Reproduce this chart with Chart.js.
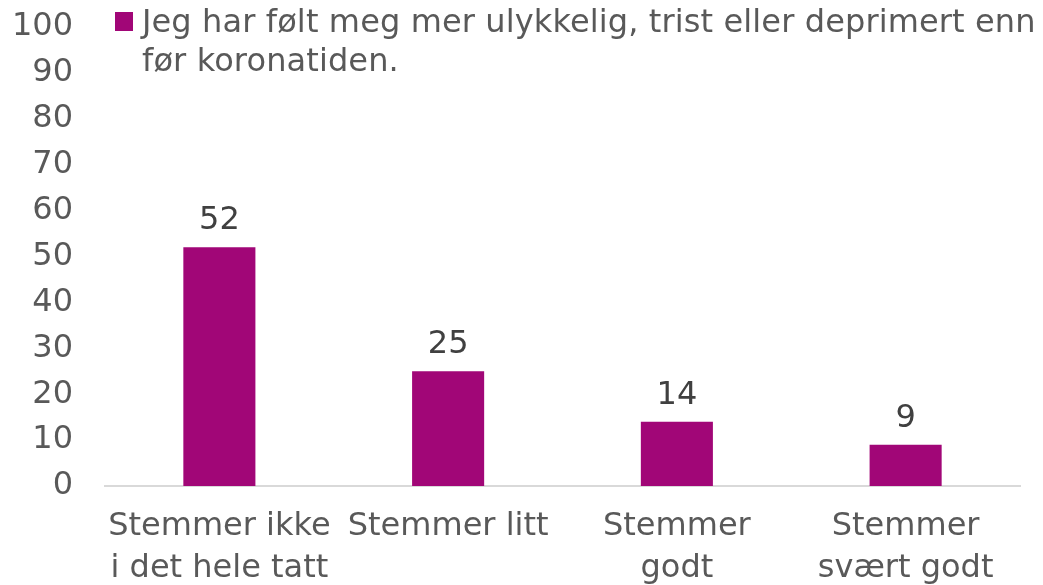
<!DOCTYPE html>
<html>
<head>
<meta charset="utf-8">
<script src="https://cdn.jsdelivr.net/npm/chart.js@4.4.1/dist/chart.umd.min.js"></script>
<style>
  html, body { margin: 0; padding: 0; background: #fff; }
  #wrap { position: relative; width: 1043px; height: 585px; overflow: hidden; }
  #legend { position: absolute; left: 115px; top: 2px; width: 960px; font-family: "DejaVu Sans", Verdana, sans-serif; font-size: 32px; color: #595959; line-height: 39px; letter-spacing: 0.12px; }
  #legend .sw { position: absolute; left: 0; top: 10px; width: 18px; height: 19px; }
  #legend .tx { margin-left: 27px; width: 905px; }
</style>
</head>
<body>
<div id="wrap">
  <canvas id="c" width="1043" height="585"></canvas>
  <div id="legend"></div>
</div>
<script>
const categories = [["Stemmer ikke", "i det hele tatt"], "Stemmer litt", ["Stemmer", "godt"], ["Stemmer", "svært godt"]];
const values = [52, 25, 14, 9];
const seriesLabel = "Jeg har følt meg mer ulykkelig, trist eller deprimert enn før koronatiden.";
const yTicks = [0, 10, 20, 30, 40, 50, 60, 70, 80, 90, 100];

const barColor = "#A10677";
const font = "DejaVu Sans";

const valueLabels = {
  id: "valueLabels",
  afterDatasetsDraw(chart) {
    const ctx = chart.ctx;
    ctx.save();
    ctx.font = "32px '" + font + "'";
    ctx.fillStyle = "#404040";
    ctx.textAlign = "center";
    ctx.textBaseline = "alphabetic";
    chart.getDatasetMeta(0).data.forEach((bar, i) => {
      ctx.fillText(String(chart.data.datasets[0].data[i]), bar.x, bar.y - 18);
    });
    ctx.restore();
  }
};

const chart = new Chart(document.getElementById("c"), {
  type: "bar",
  data: {
    labels: categories,
    datasets: [{
      label: seriesLabel,
      data: values,
      backgroundColor: barColor,
      categoryPercentage: 1,
      barPercentage: 0.315
    }]
  },
  options: {
    responsive: false,
    animation: false,
    layout: { padding: { top: 27, right: 23, left: 0, bottom: 0 } },
    plugins: { legend: { display: false }, tooltip: { enabled: false } },
    scales: {
      y: {
        min: 0, max: 100,
        afterBuildTicks(scale) { scale.ticks = yTicks.map(v => ({ value: v })); },
        afterFit(scale) { scale.width = 105; scale.paddingTop = 0; scale.paddingBottom = 0; },
        grid: { display: false, drawTicks: false },
        border: { display: false },
        ticks: { padding: 32, color: "#595959", font: { family: font, size: 32 } }
      },
      x: {
        grid: { display: false, drawTicks: false },
        border: { display: true, color: "#d9d9d9", width: 2 },
        ticks: { padding: 19, color: "#595959", maxRotation: 0, autoSkip: false, font: { family: font, size: 32, lineHeight: 1.33 } },
        afterFit(scale) { scale.height = 99; scale.paddingLeft = 0; scale.paddingRight = 0; }
      }
    }
  },
  plugins: [valueLabels]
});

const lg = document.getElementById("legend");
const sw = document.createElement("span");
sw.className = "sw";
sw.style.background = chart.data.datasets[0].backgroundColor;
const tx = document.createElement("div");
tx.className = "tx";
tx.textContent = chart.data.datasets[0].label;
lg.appendChild(sw);
lg.appendChild(tx);
</script>
</body>
</html>
